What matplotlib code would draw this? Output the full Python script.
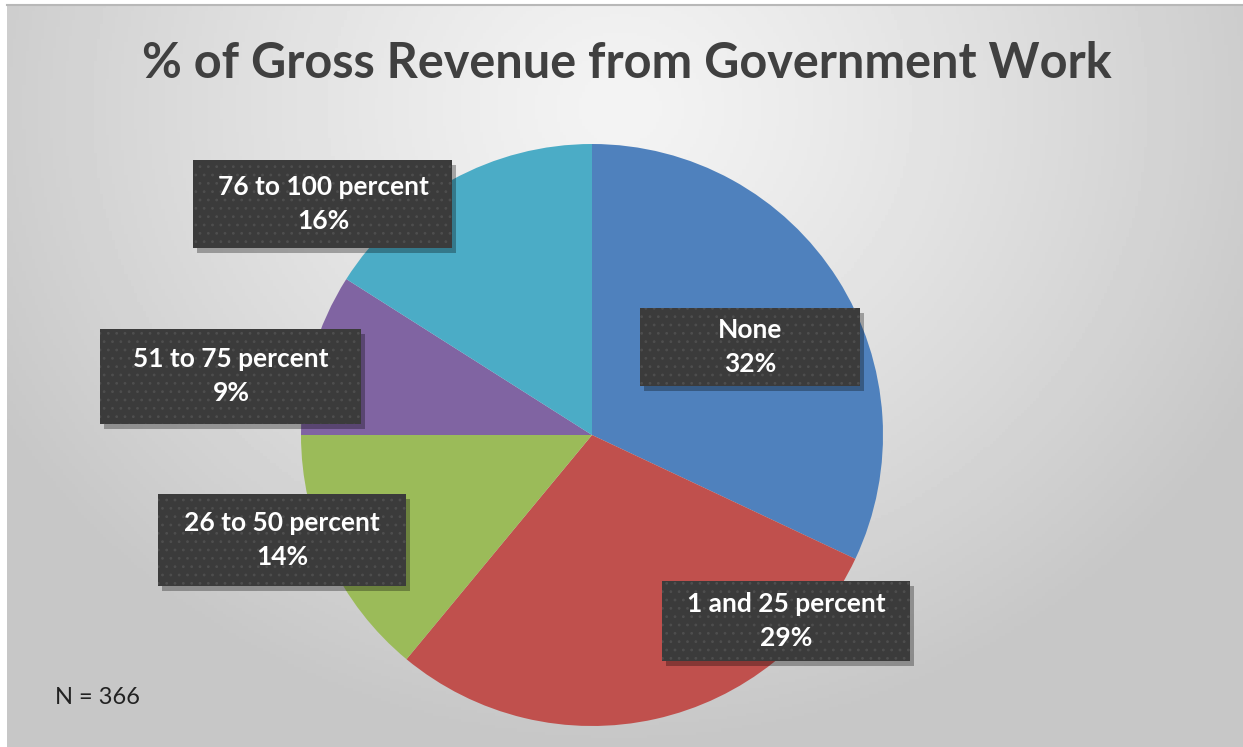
import numpy as np
import matplotlib
matplotlib.use("Agg")
import matplotlib.pyplot as plt
from matplotlib.patches import FancyBboxPatch

categories = ["None", "1 and 25 percent", "26 to 50 percent",
              "51 to 75 percent", "76 to 100 percent"]
shares = [32, 29, 14, 9, 16]
colors = ["#4F81BD", "#C0504D", "#9BBB59", "#8064A2", "#4BACC6"]
n_responses = 366

# label box centres and sizes (pixels, origin bottom-left)
label_pos = [(750, 400), (786, 126), (282, 207), (231, 371), (323, 543)]
label_size = [(220, 78), (248, 80), (248, 92), (261, 95), (259, 88)]

plt.rcParams["hatch.color"] = "#4e4e4e"
plt.rcParams["hatch.linewidth"] = 0.8

W, H = 1243, 747
fig = plt.figure(figsize=(W / 100, H / 100), dpi=100)
fig.patch.set_facecolor("white")
ax = fig.add_axes([0, 0, 1, 1])

# radial grey backdrop
gx, gy = np.meshgrid(np.linspace(7, W, 400), np.linspace(0, 742, 240))
d = np.hypot((gx - 620) / 760, (gy - 640) / 680)
shade = np.clip(0.955 - 0.19 * d ** 1.2, 0.78, 1)
ax.imshow(shade, cmap="gray", vmin=0, vmax=1, extent=(7, W, 0, 742),
          origin="lower", aspect="auto", zorder=0)
ax.plot([7, W], [742, 742], color="#b8b8b8", lw=1.5, zorder=1)

ax.pie(shares, colors=colors, startangle=90, counterclock=False,
       center=(592, 312), radius=291, frame=True,
       wedgeprops=dict(linewidth=0), normalize=True)
ax.set_xlim(0, W)
ax.set_ylim(0, H)
ax.set_aspect("auto")
ax.axis("off")

font = "Lato"
for name, val, (cx, cy), (bw, bh) in zip(categories, shares, label_pos, label_size):
    shadow = FancyBboxPatch((cx - bw / 2 + 4, cy - bh / 2 - 5), bw, bh,
                            boxstyle="square,pad=0", facecolor="black",
                            edgecolor="none", alpha=0.3, zorder=4)
    ax.add_patch(shadow)
    box = FancyBboxPatch((cx - bw / 2, cy - bh / 2), bw, bh,
                         boxstyle="square,pad=0", facecolor="#3b3b3b",
                         edgecolor="#4e4e4e", linewidth=0, hatch="..",
                         zorder=5)
    ax.add_patch(box)
    ax.text(cx, cy, f"{name}\n{val}%", ha="center", va="center",
            color="white", fontsize=19, fontweight="bold", family=font,
            linespacing=1.5, zorder=6)

ax.text(627, 684, "% of Gross Revenue from Government Work", ha="center",
        va="center", fontsize=35, fontweight="bold", family=font,
        color="#404040", zorder=6)
ax.text(55, 50, f"N = {n_responses}", ha="left", va="center",
        fontsize=17, family=font, color="#222222", zorder=6)

fig.savefig("out.png", dpi=100, facecolor=fig.get_facecolor())
